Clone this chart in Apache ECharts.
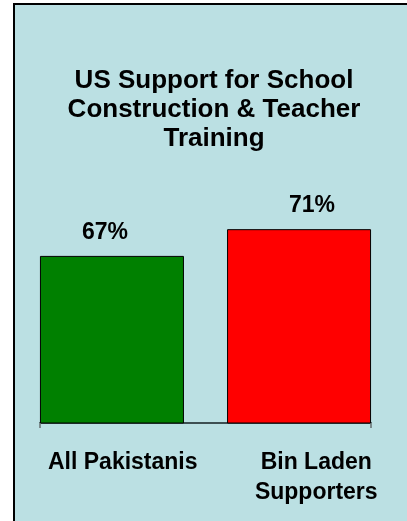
<!DOCTYPE html>
<html>
<head>
<meta charset="utf-8">
<script src="https://cdn.jsdelivr.net/npm/echarts@6/dist/echarts.min.js"></script>
<style>
  html, body { margin: 0; padding: 0; background: #fff; }
  #chart { width: 407px; height: 521px; }
</style>
</head>
<body>
<div id="chart"></div>
<script>
const titleText = 'US Support for School\nConstruction & Teacher\nTraining'
const categories = ['All Pakistanis', 'Bin Laden\nSupporters']
const values = [67, 71]
const barColors = ['#008000', '#FF0000']

const font = 'Liberation Sans, Arial, sans-serif'
const labelShift = [-7, 13]

const chart = echarts.init(document.getElementById('chart'))

// one series per bar so each sits at the outer side of its band
const series = values.map((v, i) => ({
  type: 'bar',
  name: categories[i],
  barWidth: 144,
  barGap: '-85%',
  data: values.map((w, j) => (j === i ? w : null)),
  itemStyle: {
    color: barColors[i],
    borderColor: '#000',
    borderWidth: 1,
  },
  label: {
    show: true,
    position: 'top',
    distance: 12,
    offset: [labelShift[i], 0],
    formatter: '{c}%',
    fontFamily: font,
    fontWeight: 'bold',
    fontSize: 23,
    color: '#000',
  },
  animation: false,
}))

chart.setOption({
  backgroundColor: '#fff',
  animation: false,
  graphic: [{
    type: 'rect',
    z: -10,
    shape: { x: 14, y: 4, width: 420, height: 540 },
    style: { fill: '#BBE0E3', stroke: '#000', lineWidth: 2 },
  }],
  title: {
    text: titleText,
    left: 214,
    top: 66,
    padding: 0,
    textAlign: 'center',
    textStyle: {
      fontFamily: font,
      fontWeight: 'bold',
      fontSize: 26,
      lineHeight: 29,
      color: '#000',
    },
  },
  grid: {
    left: 40,
    right: 36,
    top: 169,
    bottom: 98,
  },
  xAxis: {
    type: 'category',
    data: categories.map((c, i) => (i === 1
      ? { value: c, textStyle: { padding: [0, 0, 0, 56] } }
      : c)),
    axisLine: { lineStyle: { color: '#3d4f52', width: 2 } },
    axisTick: {
      show: true,
      // only the two outer ticks, as in the original
      interval: (index) => index !== 1,
      length: 5,
      lineStyle: { color: '#7a8a8c', width: 2 },
    },
    axisLabel: {
      interval: 0,
      hideOverlap: false,
      margin: 25,
      fontFamily: font,
      fontWeight: 'bold',
      fontSize: 23,
      lineHeight: 30,
      color: '#000',
    },
  },
  yAxis: {
    type: 'value',
    min: 42,
    max: 80,
    show: false,
  },
  series,
})
</script>
</body>
</html>
